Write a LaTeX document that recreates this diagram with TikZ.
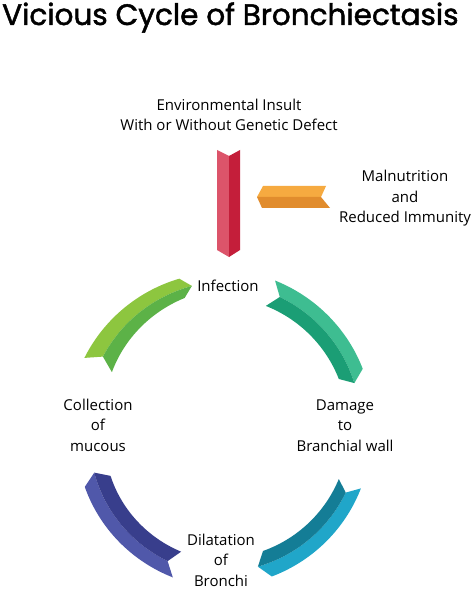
\documentclass[tikz,border=0pt]{standalone}
\usepackage{fontspec}
\setmainfont{Open Sans}
\newfontfamily\titlefont{Poppins}[FakeBold=1.6]
\definecolor{gl}{HTML}{8DC63F}\definecolor{gd}{HTML}{5CB247}
\definecolor{tl}{HTML}{3EBD91}\definecolor{td}{HTML}{1B9E75}
\definecolor{bl}{HTML}{20A6C9}\definecolor{bd}{HTML}{147D96}
\definecolor{pl}{HTML}{5058AA}\definecolor{pd}{HTML}{383E8C}
\definecolor{rl}{HTML}{DC546A}\definecolor{rd}{HTML}{C41E3A}
\definecolor{ol}{HTML}{F6AA40}\definecolor{od}{HTML}{E18C2D}
\def\cx{221}\def\cy{429}\def\dl{4}
% #1 tail angle, #2 head angle, #3/#4 outer radius tail/head, #5/#6 inner radius tail/head, #7 light, #8 dark
\newcommand{\myribbon}[8]{%
\fill[#7] plot[domain=0:1,samples=40] ({\cx+(#3+(#4-#3)*\x)*cos(#1+(#2-(#1))*\x)},{\cy+(#3+(#4-#3)*\x)*sin(#1+(#2-(#1))*\x)})
  -- plot[domain=1:0,samples=40] ({\cx+((#3+#5)/2+((#4+#6)/2-(#3+#5)/2)*\x)*cos(#1+(#2-(#1))*\x+\dl)},{\cy+((#3+#5)/2+((#4+#6)/2-(#3+#5)/2)*\x)*sin(#1+(#2-(#1))*\x+\dl)}) -- cycle;
\fill[#8] plot[domain=0:1,samples=40] ({\cx+((#3+#5)/2+((#4+#6)/2-(#3+#5)/2)*\x)*cos(#1+(#2-(#1))*\x+\dl)},{\cy+((#3+#5)/2+((#4+#6)/2-(#3+#5)/2)*\x)*sin(#1+(#2-(#1))*\x+\dl)})
  -- plot[domain=1:0,samples=40] ({\cx+(#5+(#6-#5)*\x)*cos(#1+(#2-(#1))*\x)},{\cy+(#5+(#6-#5)*\x)*sin(#1+(#2-(#1))*\x)}) -- cycle;
}
\tikzset{lbl/.style={font=\fontsize{15}{20.5}\selectfont, align=center, anchor=base, inner sep=0pt}}
\begin{document}
\begin{tikzpicture}[x=1pt,y=-1pt]
\useasboundingbox (0,0) rectangle (474,593);
\fill[white] (0,0) rectangle (474,593);
\node[anchor=base west, inner sep=0pt, font=\titlefont\fontsize{29.5}{34}\selectfont] (title) at (2,25) {Vicious Cycle of Bronchiectasis};
% red bar
\fill[rl] (217,150) -- (229,156) -- (229,257) -- (217,250) -- cycle;
\fill[rd] (229,156) -- (240,150) -- (240,250) -- (229,257) -- cycle;
% orange bar
\fill[ol] (257,197) -- (263,186) -- (326,186) -- (321,197) -- cycle;
\fill[od] (257,197) -- (321,197) -- (330,208) -- (262,208) -- cycle;
% ribbons
\myribbon{-152.5}{-105.5}{154}{156}{123}{136}{gl}{gd}
\myribbon{-70}{-23}{158}{154}{131}{128}{tl}{td}
\myribbon{23}{71}{152}{156}{128}{129}{bl}{bd}
\myribbon{108}{157}{156}{148}{129}{120}{pl}{pd}
% labels
\node[lbl] (env) at (229,131) {Environmental Insult\\With or Without Genetic Defect};
\node[lbl] (mal) at (405,223) {Malnutrition\\and\\Reduced Immunity};
\node[lbl] (inf) at (228,291) {Infection};
\node[lbl] (dam) at (345,451) {Damage\\to\\Branchial wall};
\node[lbl] (col) at (98,451) {Collection\\of\\mucous};
\node[lbl] (dil) at (221,586) {Dilatation\\of\\Bronchi};
\end{tikzpicture}
\end{document}
